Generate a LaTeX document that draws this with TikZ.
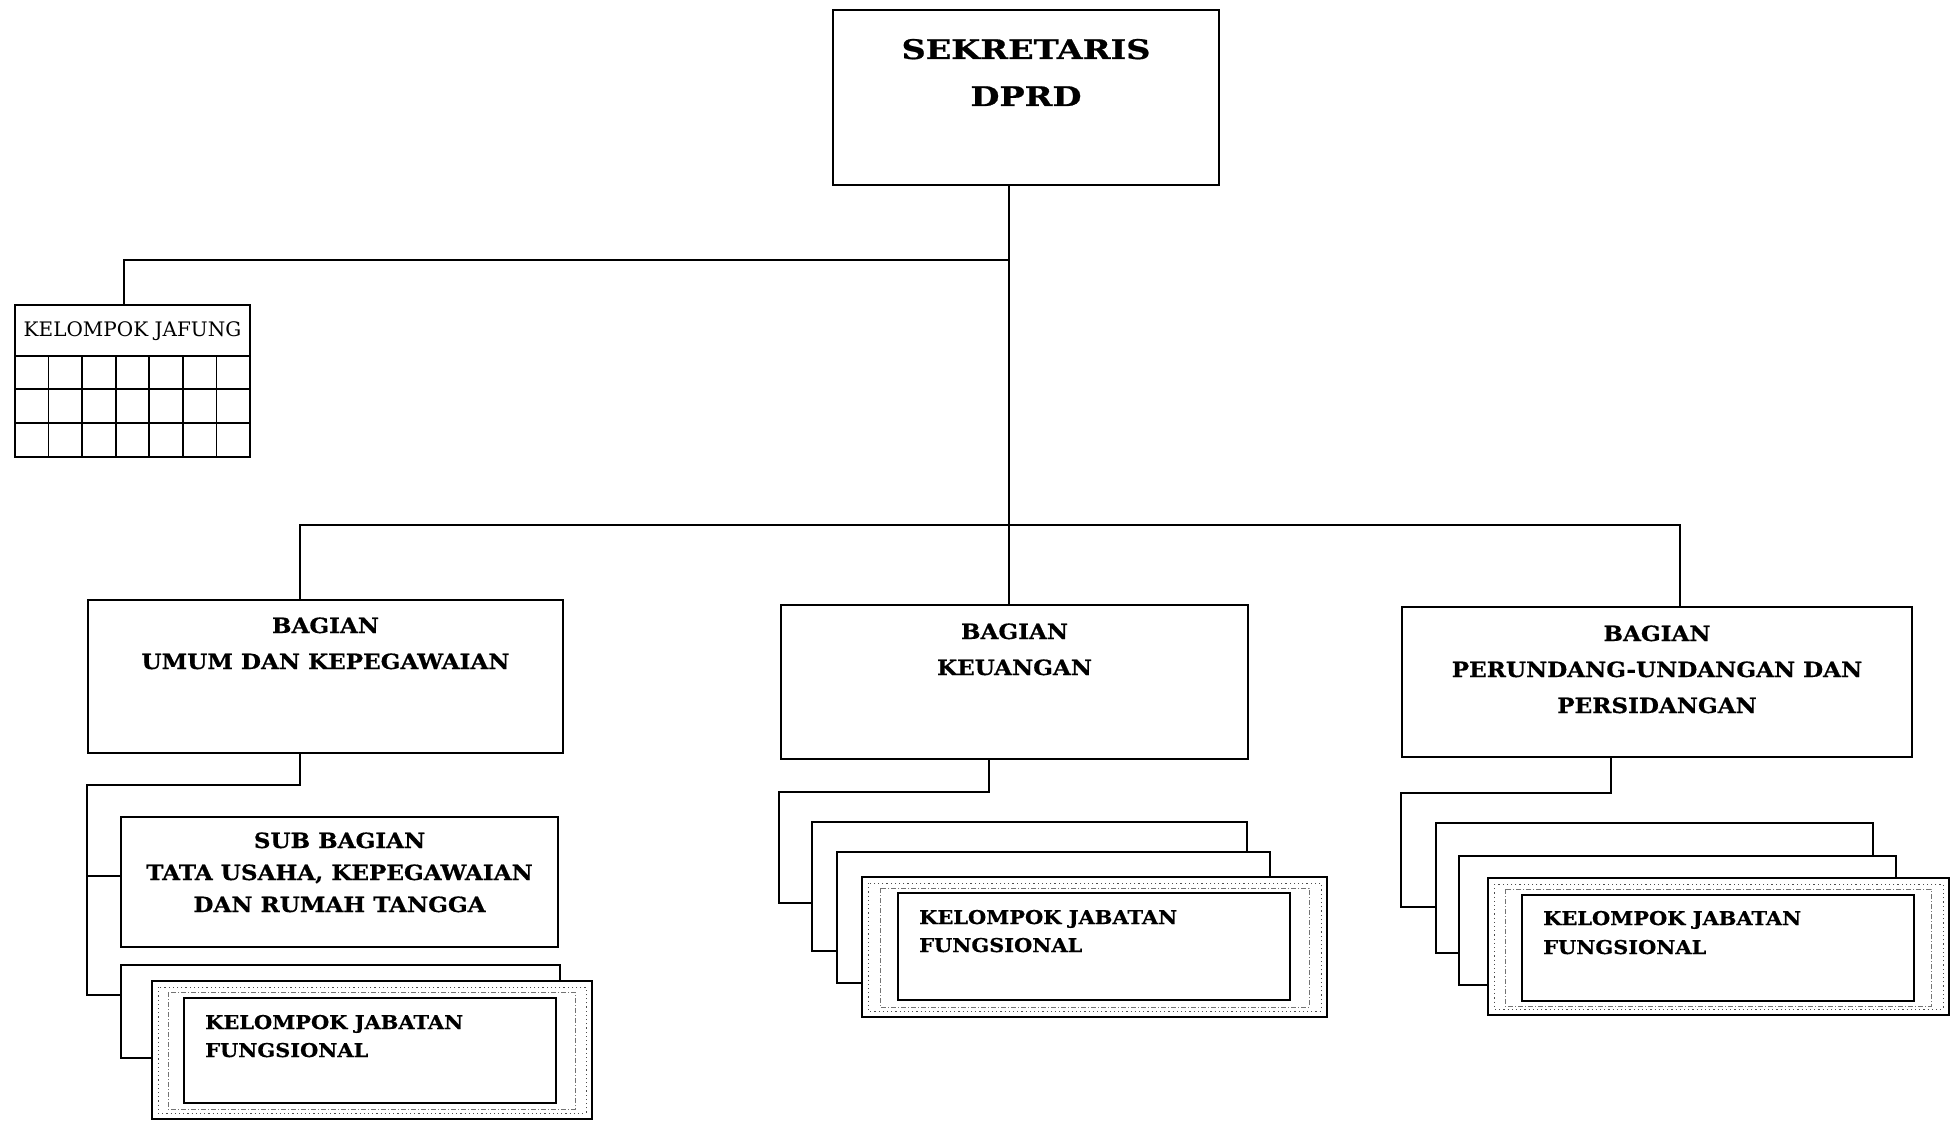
\documentclass[tikz,border=0pt]{standalone}
\usepackage{fontspec}
\usetikzlibrary{fit}
\newfontfamily\headfont[FakeStretch=1.24, BoldFeatures={FakeBold=0.8}]{DejaVu Serif}
\newfontfamily\unitfont[FakeStretch=1.1, BoldFeatures={FakeBold=0.6}]{DejaVu Serif}
\newfontfamily\plainfont{DejaVu Serif}
\tikzset{
  box/.style={draw, line width=2pt, fill=white, inner sep=0pt},
  thinbox/.style={draw, line width=1.6pt, fill=white, inner sep=0pt},
  link/.style={line width=2pt},
  lbl/.style={inner sep=0pt, anchor=base},
  title/.style={lbl, font=\headfont\bfseries\fontsize{27}{32}\selectfont},
  unit/.style={lbl, font=\unitfont\bfseries\fontsize{21}{25}\selectfont},
  group/.style={lbl, anchor=base west, font=\unitfont\bfseries\fontsize{19}{23}\selectfont},
  jaftext/.style={lbl, font=\plainfont\fontsize{20}{24}\selectfont},
  gridline/.style={line width=1.6pt},
  frametick/.style={draw=black!70, line width=0.9pt, dash pattern=on 1.2pt off 3pt},
  framerule/.style={draw=black!55, line width=0.6pt, dash pattern=on 5pt off 2pt on 1pt off 2pt},
}
\begin{document}
\begin{tikzpicture}[x=1pt, y=-1pt]
\fill[white] (0,0) rectangle (1953,1121);
\useasboundingbox (0,0) rectangle (1953,1121);

% ---- top level
\node[box, fit={(833,10) (1219,185)}] (sek) {};
\node[title] (sekA) at ([yshift=-50pt]sek.north) {SEKRETARIS};
\node[title] (sekB) at ([yshift=-97pt]sek.north) {DPRD};

% ---- functional group beside the secretary
\node[thinbox, fit={(15,305) (250,457)}] (jaf) {};
\node[jaftext] (jafT) at ([yshift=-32pt]jaf.north) {KELOMPOK JAFUNG};
\foreach \yy in {356,389,423} \draw[gridline] (15,\yy) -- (250,\yy);
\foreach \k in {1,...,6} \draw[gridline] ({15+\k*33.57},356) -- ({15+\k*33.57},457);

% ---- departments
\node[box, fit={(88,600) (563,753)}] (umum) {};
\node[unit] (umumA) at ([yshift=-34pt]umum.north) {BAGIAN};
\node[unit] (umumB) at ([yshift=-70pt]umum.north) {UMUM DAN KEPEGAWAIAN};

\node[box, fit={(781,605) (1248,759)}] (keu) {};
\node[unit] (keuA) at ([yshift=-35pt]keu.north) {BAGIAN};
\node[unit] (keuB) at ([yshift=-71pt]keu.north) {KEUANGAN};

\node[box, fit={(1402,607) (1912,757)}] (per) {};
\node[unit] (perA) at ([yshift=-35pt]per.north) {BAGIAN};
\node[unit] (perB) at ([yshift=-71pt]per.north) {PERUNDANG-UNDANGAN DAN};
\node[unit] (perC) at ([yshift=-107pt]per.north) {PERSIDANGAN};

% ---- sub-department
\node[box, fit={(121,817) (558,947)}] (sub) {};
\node[unit] (subA) at ([yshift=-32pt]sub.north) {SUB BAGIAN};
\node[unit] (subB) at ([yshift=-64pt]sub.north) {TATA USAHA, KEPEGAWAIAN};
\node[unit] (subC) at ([yshift=-96pt]sub.north) {DAN RUMAH TANGGA};

% ---- functional position stacks (back sheets, then framed front sheet)
% left stack
\node[box, fit={(121,965) (560,1058)}] (lb1) {};
\node[thinbox, fit={(152,981) (592,1119)}] (lf) {};
\draw[frametick] (158,987) rectangle (586,1113);
\draw[framerule] (168,992) rectangle (575,1109);
\node[box, fit={(184,998) (556,1103)}] (lin) {};
\node[group] (lA) at ([xshift=22pt,yshift=-32pt]lin.north west) {KELOMPOK JABATAN};
\node[group] (lB) at ([xshift=22pt,yshift=-60pt]lin.north west) {FUNGSIONAL};

% middle stack
\node[box, fit={(812,822) (1247,951)}] (mb1) {};
\node[box, fit={(837,852) (1270,983)}] (mb2) {};
\node[thinbox, fit={(862,877) (1327,1017)}] (mf) {};
\draw[frametick] (868,883) rectangle (1321,1011);
\draw[framerule] (880,888) rectangle (1309,1007);
\node[box, fit={(898,893) (1290,1000)}] (min) {};
\node[group] (mA) at ([xshift=22pt,yshift=-32pt]min.north west) {KELOMPOK JABATAN};
\node[group] (mB) at ([xshift=22pt,yshift=-60pt]min.north west) {FUNGSIONAL};

% right stack
\node[box, fit={(1436,823) (1873,953)}] (rb1) {};
\node[box, fit={(1459,856) (1896,985)}] (rb2) {};
\node[thinbox, fit={(1488,878) (1949,1015)}] (rf) {};
\draw[frametick] (1494,884) rectangle (1943,1009);
\draw[framerule] (1505,889) rectangle (1931,1006);
\node[box, fit={(1522,895) (1914,1001)}] (rin) {};
\node[group] (rA) at ([xshift=22pt,yshift=-31pt]rin.north west) {KELOMPOK JABATAN};
\node[group] (rB) at ([xshift=22pt,yshift=-60pt]rin.north west) {FUNGSIONAL};

% ---- connector bends
\coordinate (j1) at (1009,260);
\coordinate (j2) at (124,260);
\coordinate (h2L) at (300,525);
\coordinate (h2R) at (1680,525);
\coordinate (u1) at (300,785);
\coordinate (u2) at (87,785);
\coordinate (u3) at (87,995);
\coordinate (u4) at (87,876);
\coordinate (m1) at (989,792);
\coordinate (m2) at (779,792);
\coordinate (m3) at (779,903);
\coordinate (r1) at (1611,793);
\coordinate (r2) at (1401,793);
\coordinate (r3) at (1401,907);

% ---- connectors
\draw[link] (sek.south -| j1) -- (keu.north -| j1);
\draw[link] (j1) -- (j2) -- (jaf.north -| j2);
\draw[link] (umum.north -| h2L) -- (h2L) -- (h2R) -- (per.north -| h2R);

\draw[link] (umum.south -| u1) -- (u1) -- (u2) -- (u3) -- (u3 -| lb1.west);
\draw[link] (u4) -- (u4 -| sub.west);

\draw[link] (keu.south -| m1) -- (m1) -- (m2) -- (m3) -- (m3 -| mb1.west);
\draw[link] (per.south -| r1) -- (r1) -- (r2) -- (r3) -- (r3 -| rb1.west);
\end{tikzpicture}
\end{document}
